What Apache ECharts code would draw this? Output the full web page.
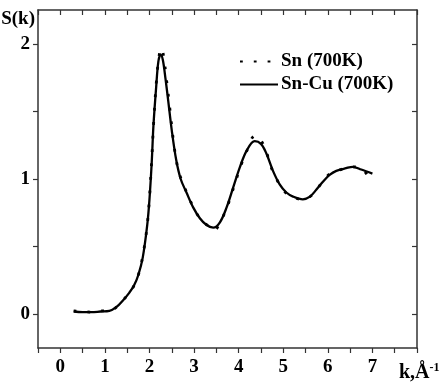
<!DOCTYPE html>
<html><head><meta charset="utf-8">
<script src="https://cdn.jsdelivr.net/npm/echarts@6/dist/echarts.min.js"></script>
<style>html,body{margin:0;padding:0;background:#fff}#c{width:445px;height:383px}</style>
</head><body><div id="c"></div>
<script>
// k values and S(k) values
const kSnCu = [0.3,0.5,0.7,0.9,1.1,1.25,1.4,1.55,1.65,1.75,1.85,1.95,2.0,2.05,2.09,2.15,2.2,2.25,2.3,2.36,2.42,2.5,2.6,2.7,2.83,2.98,3.13,3.28,3.43,3.58,3.73,3.88,4.03,4.18,4.36,4.5,4.62,4.77,4.92,5.07,5.22,5.44,5.6,5.74,5.89,6.04,6.19,6.41,6.56,6.75,7.0];
const sSnCu = [0.02,0.015,0.015,0.02,0.025,0.05,0.10,0.16,0.21,0.29,0.42,0.66,0.85,1.12,1.40,1.68,1.87,1.92,1.88,1.74,1.58,1.36,1.14,1.00,0.90,0.79,0.71,0.66,0.64,0.68,0.79,0.94,1.09,1.21,1.28,1.26,1.19,1.06,0.96,0.90,0.87,0.85,0.87,0.92,0.98,1.03,1.06,1.08,1.09,1.07,1.04];
const kSn = [0.3,0.5,0.7,0.9,1.1,1.25,1.4,1.55,1.65,1.75,1.85,1.95,2.0,2.05,2.1,2.16,2.22,2.27,2.32,2.38,2.45,2.55,2.65,2.75,2.9,3.05,3.2,3.35,3.45,3.6,3.75,3.9,4.05,4.2,4.36,4.47,4.6,4.75,4.9,5.05,5.2,5.4,5.6,5.75,5.9,6.05,6.2,6.4,6.55,6.75,6.9];
const sSn  = [0.025,0.02,0.015,0.025,0.025,0.05,0.10,0.16,0.21,0.29,0.43,0.66,0.86,1.14,1.45,1.74,1.92,1.97,1.90,1.74,1.54,1.25,1.06,0.97,0.85,0.75,0.68,0.65,0.62,0.69,0.80,0.95,1.10,1.22,1.32,1.30,1.22,1.07,0.97,0.90,0.87,0.85,0.87,0.92,0.99,1.04,1.06,1.08,1.09,1.08,1.02];
const xLabels = [0,1,2,3,4,5,6,7];
const yLabels = [0,1,2];
const yTicks = [0,0.5,1,1.5,2];
const names = ['Sn (700K)','Sn-Cu (700K)'];

const font = 'Liberation Serif';
const axisCol = '#333';
const chart = echarts.init(document.getElementById('c'), null, {renderer:'canvas'});
const pair = (a,b)=>a.map((v,i)=>[v,b[i]]);
chart.setOption({
  animation:false,
  backgroundColor:'#fff',
  grid:{left:38,right:28,top:10,bottom:35,containLabel:false,outerBoundsMode:'none'},
  legend:{
    orient:'vertical', left:234, top:47, itemGap:4,
    itemWidth:38, itemHeight:12,
    itemStyle:{opacity:0},
    textStyle:{fontFamily:font,fontWeight:'bold',fontSize:19,color:'#000',padding:[0,0,0,-2]},
    data:names
  },
  xAxis:[{
    type:'value', min:-0.5, max:8, interval:0.5, position:'bottom',
    axisLine:{show:true,onZero:false,lineStyle:{color:axisCol,width:1.5}},
    axisTick:{show:true,inside:false,length:5,lineStyle:{color:axisCol,width:1.2}},
    axisLabel:{customValues:xLabels,margin:10,fontFamily:font,fontWeight:'bold',fontSize:19,color:'#000'},
    splitLine:{show:false},
    name:'{k|k,Å}{s|-1}', nameLocation:'end', nameGap:-18,
    nameTextStyle:{verticalAlign:'top',padding:[14,0,0,0],
      rich:{k:{fontFamily:font,fontWeight:'bold',fontSize:20,color:'#000'},
            s:{fontFamily:font,fontWeight:'bold',fontSize:12,color:'#000',verticalAlign:'top',padding:[0,0,9,0]}}}
  },{
    type:'value', min:-0.5, max:8, interval:0.5, position:'top',
    axisLine:{show:true,onZero:false,lineStyle:{color:axisCol,width:1.5}},
    axisTick:{show:true,inside:true,length:5,lineStyle:{color:axisCol,width:1.2}},
    axisLabel:{show:false}, splitLine:{show:false}
  }],
  yAxis:[{
    type:'value', min:-0.25, max:2.25, position:'left',
    axisLine:{show:true,onZero:false,lineStyle:{color:axisCol,width:1.5}},
    axisTick:{show:true,inside:false,length:5,customValues:yTicks,lineStyle:{color:axisCol,width:1.2}},
    axisLabel:{customValues:yLabels,margin:8,fontFamily:font,fontWeight:'bold',fontSize:19,color:'#000'},
    splitLine:{show:false},
    name:'S(k)', nameLocation:'end', nameGap:-19,
    nameTextStyle:{fontFamily:font,fontWeight:'bold',fontSize:19,color:'#000',align:'right',padding:[0,3,0,0]}
  },{
    type:'value', min:-0.25, max:2.25, position:'right',
    axisLine:{show:true,onZero:false,lineStyle:{color:axisCol,width:1.5}},
    axisTick:{show:true,inside:true,length:5,customValues:yTicks,lineStyle:{color:axisCol,width:1.2}},
    axisLabel:{show:false}, splitLine:{show:false}
  }],
  series:[{
    name:names[1], type:'line', data:pair(kSnCu,sSnCu), smooth:0.35, symbol:'none',
    lineStyle:{color:'#000',width:2.3}, itemStyle:{color:'#000'}, z:2
  },{
    name:names[0], type:'line', data:pair(kSn,sSn), smooth:0.35, symbol:'none',
    lineStyle:{color:'#000',width:2.8,type:[2.8,11]}, itemStyle:{color:'#000'}, z:3
  }]
});
</script></body></html>
